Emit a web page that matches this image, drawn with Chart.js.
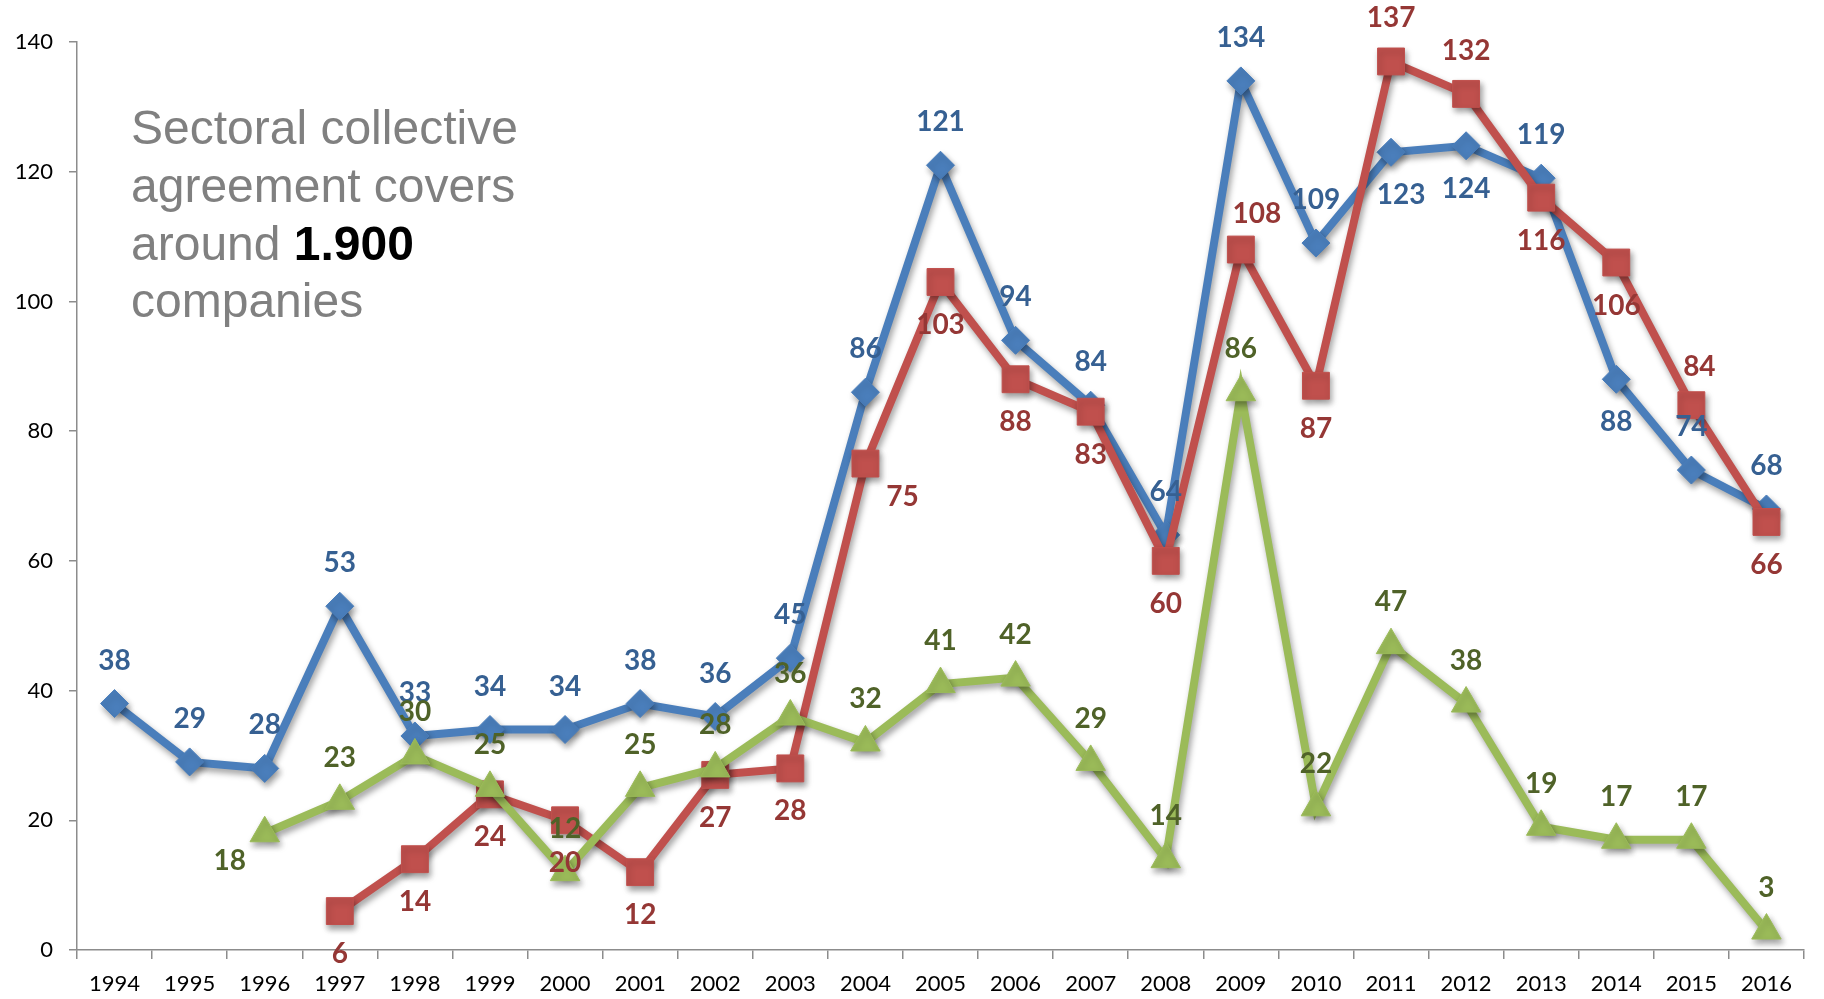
<!DOCTYPE html>
<html>
<head>
<meta charset="utf-8">
<title>Sectoral collective agreements 1994-2016</title>
<script src="https://cdn.jsdelivr.net/npm/chart.js@4.4.1/dist/chart.umd.min.js"></script>
<style>
    html, body { margin: 0; padding: 0; background: #ffffff; overflow: hidden; }
    #wrap { position: relative; width: 1824px; height: 999px; }
</style>
</head>
<body>
<div id="wrap"><canvas id="agreements-chart"></canvas></div>
<script>
// Years on the x axis
const years = ['1994', '1995', '1996', '1997', '1998', '1999', '2000', '2001', '2002', '2003', '2004',
    '2005', '2006', '2007', '2008', '2009', '2010', '2011', '2012', '2013', '2014', '2015', '2016'];

// Series values (null = no value that year)
const blueValues = [38, 29, 28, 53, 33, 34, 34, 38, 36, 45, 86, 121, 94, 84, 64, 134, 109, 123, 124, 119, 88, 74, 68];
const redValues = [null, null, null, 6, 14, 24, 20, 12, 27, 28, 75, 103, 88, 83, 60, 108, 87, 137, 132, 116, 106, 84, 66];
const greenValues = [null, null, 18, 23, 30, 25, 12, 25, 28, 36, 32, 41, 42, 29, 14, 86, 22, 47, 38, 19, 17, 17, 3];

// Y axis ticks
const yTicks = [0, 20, 40, 60, 80, 100, 120, 140];

// Where each value label sits relative to its point
const bluePlace = ['up', 'up', 'up', 'up', 'up', 'up', 'up', 'up', 'up', 'up', 'up', 'up', 'up', 'up', 'up', 'up', 'up',
    'dnr', 'dn', 'up', 'dn', 'up', 'up'];
const redPlace = [null, null, null, 'dn', 'dn', 'dn', 'dn', 'dn', 'dn', 'dn', 'dr', 'dn', 'dn', 'dn', 'dn', 'ur', 'dn',
    'up', 'up', 'dn', 'dn', 'ur2', 'dn'];
const greenPlace = [null, null, 'dl', 'up', 'up', 'up', 'up', 'up', 'up', 'up', 'up', 'up', 'up', 'up', 'up', 'up', 'up',
    'up', 'up', 'up', 'up', 'up', 'up'];

const placeOffsets = {
    up: [0, -43], dn: [0, 43], dnr: [10, 43], dr: [37, 33], ur: [16, -36], ur2: [8, -38], dl: [-35, 28]
};

const colors = {
    blue: '#4A7EBB', red: '#C0504D', green: '#9BBB59',
    blueText: '#366092', redText: '#953735', greenText: '#4F6228'
};

// Drop shadow under the lines and markers
const lineShadow = {
    id: 'lineShadow',
    beforeDatasetDraw(chart) {
        const ctx = chart.ctx;
        ctx.save();
        ctx.shadowColor = 'rgba(0, 0, 0, 0.38)';
        ctx.shadowBlur = 6;
        ctx.shadowOffsetX = 2;
        ctx.shadowOffsetY = 4;
    },
    afterDatasetDraw(chart) {
        chart.ctx.restore();
    }
};

// Value labels next to each point
const valueLabels = {
    id: 'valueLabels',
    afterDatasetsDraw(chart) {
        const ctx = chart.ctx;
        ctx.save();
        ctx.font = 'bold 28px Lato, sans-serif';
        ctx.textAlign = 'center';
        ctx.textBaseline = 'middle';
        // blue first, then red, green on top
        [2, 1, 0].forEach(i => {
            const ds = chart.data.datasets[i];
            const meta = chart.getDatasetMeta(i);
            ctx.fillStyle = ds.labelColor;
            meta.data.forEach((pt, j) => {
                const v = ds.data[j];
                if (v === null || v === undefined) return;
                const off = placeOffsets[ds.labelPlace[j]] || placeOffsets.up;
                ctx.fillText(String(v), pt.x + off[0], pt.y + off[1]);
            });
        });
        ctx.restore();
    }
};

// Caption inside the plot area
const caption = {
    id: 'caption',
    afterDraw(chart) {
        const ctx = chart.ctx;
        const x = 131;
        ctx.save();
        ctx.textAlign = 'left';
        ctx.textBaseline = 'alphabetic';
        ctx.font = '48px "Liberation Sans", Arial, sans-serif';
        ctx.fillStyle = '#808080';
        ctx.fillText('Sectoral collective', x, 144);
        ctx.fillText('agreement covers', x, 202);
        const lead = 'around ';
        ctx.fillText(lead, x, 260);
        const w = ctx.measureText(lead).width;
        ctx.font = 'bold 48px "Liberation Sans", Arial, sans-serif';
        ctx.fillStyle = '#000000';
        ctx.fillText('1.900', x + w, 260);
        ctx.font = '48px "Liberation Sans", Arial, sans-serif';
        ctx.fillStyle = '#808080';
        ctx.fillText('companies', x, 317);
        ctx.restore();
    }
};

function makeSeries(label, values, color, textColor, style, radius, place) {
    return {
        label,
        data: values,
        borderColor: color,
        backgroundColor: color,
        borderWidth: 8,
        pointStyle: style,
        pointRadius: radius,
        pointHoverRadius: radius,
        pointBackgroundColor: color,
        pointBorderColor: color,
        pointBorderWidth: 1,
        tension: 0,
        spanGaps: false,
        labelColor: textColor,
        labelPlace: place
    };
}

document.addEventListener('DOMContentLoaded', () => {
    const ctx = document.getElementById('agreements-chart').getContext('2d');
    new Chart(ctx, {
        type: 'line',
        data: {
            labels: years,
            // dataset 0 is drawn last, so green sits on top
            datasets: [
                makeSeries('Green', greenValues, colors.green, colors.greenText, 'triangle', 17, greenPlace),
                makeSeries('Red', redValues, colors.red, colors.redText, 'rect', 19, redPlace),
                makeSeries('Blue', blueValues, colors.blue, colors.blueText, 'rectRot', 14, bluePlace)
            ]
        },
        options: {
            responsive: true,
            maintainAspectRatio: false,
            animation: false,
            layout: { padding: { top: 42, right: 9, left: 0, bottom: 0 } },
            plugins: {
                legend: { display: false },
                tooltip: { enabled: false }
            },
            scales: {
                x: {
                    offset: true,
                    grid: {
                        offset: true,
                        drawOnChartArea: false,
                        drawTicks: true,
                        tickLength: 9,
                        color: '#8c8c8c',
                        lineWidth: 1.5
                    },
                    border: { color: '#8c8c8c', width: 1.5 },
                    ticks: {
                        color: '#000000',
                        font: { family: 'Lato', size: 22 },
                        padding: 12,
                        maxRotation: 0,
                        autoSkip: false
                    },
                    afterFit(scale) {
                        scale.height = 49;
                        scale.paddingLeft = 0;
                        scale.paddingRight = 0;
                    }
                },
                y: {
                    min: 0,
                    max: 140,
                    afterBuildTicks(scale) { scale.ticks = yTicks.map(v => ({ value: v })); },
                    grid: {
                        drawOnChartArea: false,
                        drawTicks: true,
                        tickLength: 8,
                        color: '#8c8c8c',
                        lineWidth: 1.5
                    },
                    border: { color: '#8c8c8c', width: 1.5 },
                    ticks: {
                        color: '#000000',
                        font: { family: 'Lato', size: 22 },
                        padding: 16
                    },
                    afterFit(scale) { scale.width = 77; }
                }
            }
        },
        plugins: [lineShadow, valueLabels, caption]
    });
});
</script>
</body>
</html>
